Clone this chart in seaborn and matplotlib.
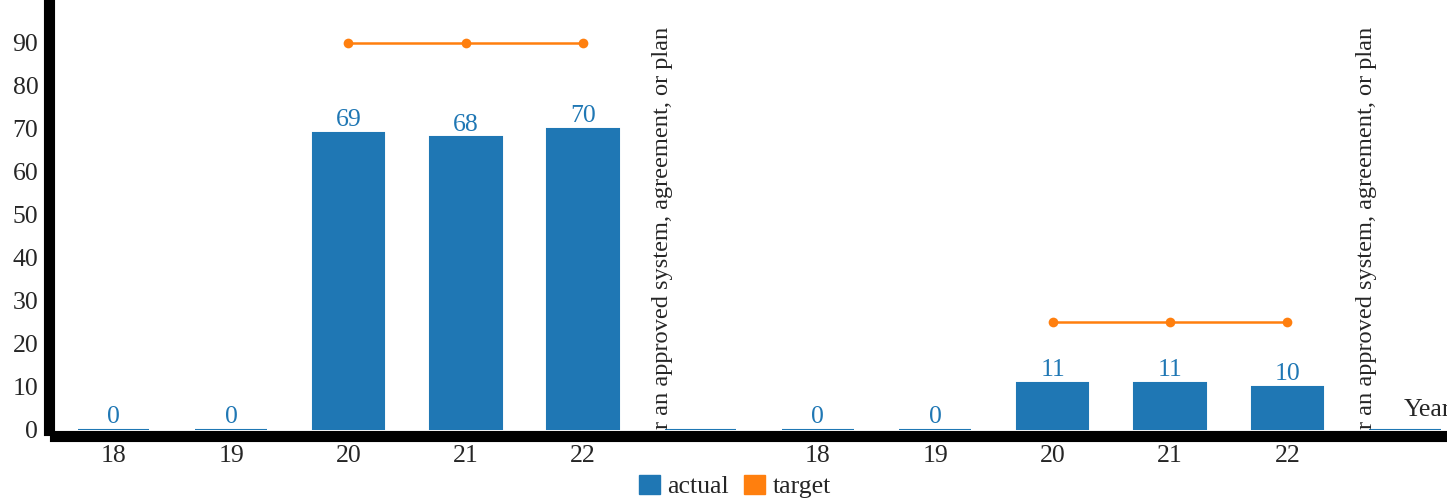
# Bar chart of actual vs target values for two groups of years

import pandas as pd
import matplotlib
matplotlib.use("Agg")
import matplotlib.pyplot as plt
from matplotlib.patches import Patch
import seaborn as sns

# Data
slots = ["a18", "a19", "a20", "a21", "a22", "a_sep",
         "b18", "b19", "b20", "b21", "b22", "b_sep"]
tick_labels = ["18", "19", "20", "21", "22", "", "18", "19", "20", "21", "22", ""]
actual = [0, 0, 69, 68, 70, 0, 0, 0, 11, 11, 10, 0]
show_label = [True, True, True, True, True, False, True, True, True, True, True, False]
target_pos = [2, 3, 4, 8, 9, 10]
target_vals = [90, 90, 90, 25, 25, 25]
target_group = ["a", "a", "a", "b", "b", "b"]
sep_text = "r an approved system, agreement, or plan"

blue = "#1f77b4"
orange = "#ff7f0e"
fs = 18.5

sns.set_style("white")
plt.rcParams["font.family"] = ["Liberation Serif", "DejaVu Serif"]

bars_df = pd.DataFrame({"slot": slots, "actual": actual})
target_df = pd.DataFrame({"pos": target_pos, "target": target_vals, "group": target_group})

fig = plt.figure(figsize=(14.47, 4.99), dpi=100)
ax = fig.add_axes([55 / 1447, 69 / 499, 1 - 55 / 1447, 425 / 499])

sns.barplot(data=bars_df, x="slot", y="actual", order=slots, color=blue,
            saturation=1, width=0.61, edgecolor=blue, linewidth=1.5, ax=ax)

sns.lineplot(data=target_df, x="pos", y="target", units="group", estimator=None,
             color=orange, marker="o", markersize=7, markeredgewidth=0,
             linewidth=1.8, ax=ax, legend=False)

# value labels above the bars
for i, (v, show) in enumerate(zip(actual, show_label)):
    if show:
        ax.text(i, v + 0.4, str(v), ha="center", va="bottom", color=blue, fontsize=fs)

# rotated separator labels (clipped at the axis)
for x in [5 - 0.32, 11 - 0.33]:
    ax.text(x, 0.3, sep_text, rotation=90, ha="center", va="bottom",
            fontsize=17.6, clip_on=True)

ax.text(10.99, 4.6, "Year", ha="left", va="center", fontsize=fs, clip_on=False)

ax.set_xlim(-0.5, 11.36)
ax.set_ylim(0, 98.8)
ax.set_yticks(range(0, 100, 10))
ax.set_xticks(range(len(slots)))
ax.set_xticklabels(tick_labels)
ax.tick_params(axis="both", length=0, labelsize=fs)
ax.tick_params(axis="y", pad=8)
ax.tick_params(axis="x", pad=7)
ax.set_xlabel("")
ax.set_ylabel("")

for side in ["top", "right"]:
    ax.spines[side].set_visible(False)
for side in ["left", "bottom"]:
    ax.spines[side].set_linewidth(8)
    ax.spines[side].set_color("black")
    ax.spines[side].set_position(("outward", 4))

handles = [Patch(color=blue, label="actual"), Patch(color=orange, label="target")]
fig.legend(handles=handles, loc="lower center", bbox_to_anchor=(0.508, -0.045), ncol=2,
           frameon=False, fontsize=fs, handlelength=0.8, handleheight=0.8,
           handletextpad=0.3, columnspacing=0.6)

plt.savefig("out.png", dpi=100)
